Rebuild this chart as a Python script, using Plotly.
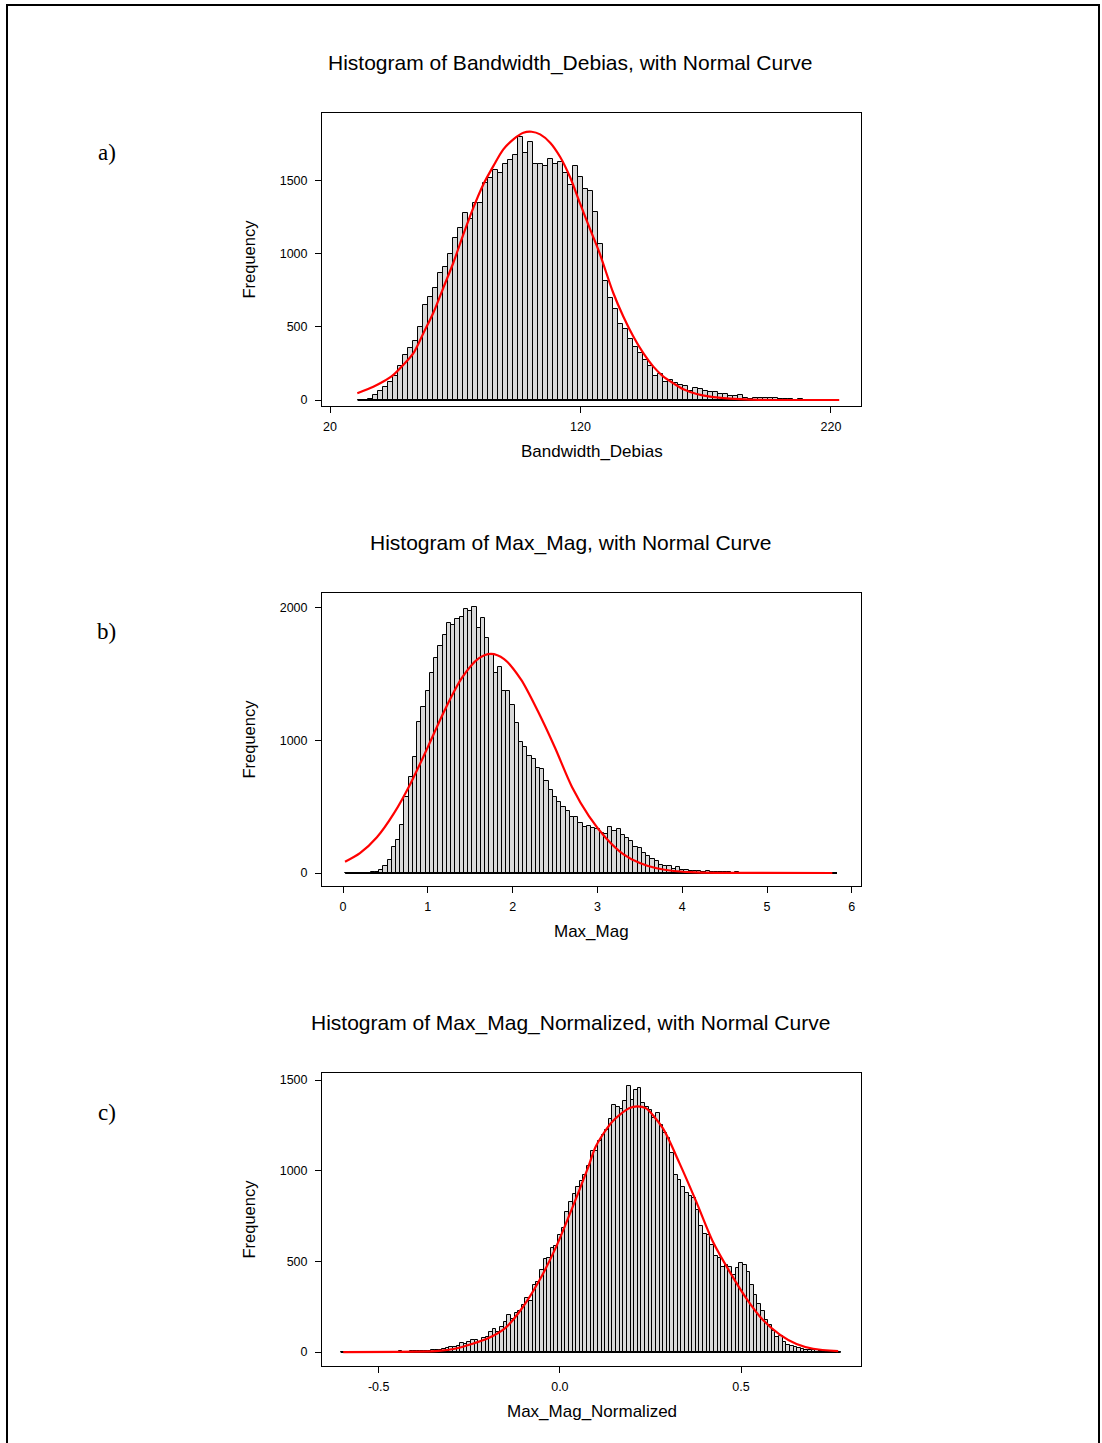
import numpy as np
import plotly.graph_objects as go

W, H = 1102, 1443

# ---------------- data ----------------
# Panel a: Bandwidth_Debias, bin width 2, first bin midpoint 32
a_title = "Histogram of Bandwidth_Debias, with Normal Curve"
a_xlabel = "Bandwidth_Debias"
a_bin_start = 32
a_bin_width = 2
a_counts = [0, 0, 5, 32, 64, 91, 121, 167, 233, 306,
            356, 402, 502, 651, 701, 765, 868, 906, 1000, 1105,
            1178, 1278, 1237, 1345, 1345, 1484, 1514, 1571, 1552, 1610,
            1639, 1676, 1799, 1689, 1765, 1610, 1610, 1598, 1646, 1614,
            1625, 1552, 1466, 1596, 1527, 1443, 1425, 1288, 1068, 813,
            696, 621, 521, 484, 416, 365, 320, 274, 233, 167,
            178, 123, 135, 114, 103, 98, 64, 82, 73, 64,
            57, 57, 39, 39, 27, 27, 34, 11, 5, 14,
            14, 14, 14, 14, 5, 5, 5, 0, 7, 0,
            0, 0, 0, 0, 0, 0]
a_curve_x = [30.9, 37.3, 41.3, 45.3, 49.3, 53.3, 57.3, 61.2, 65.2, 69.2, 73.2, 77.2,
             81.2, 85.2, 89.2, 93.2, 97.2, 100.5, 103.9, 107.9, 111.9, 115.9, 119.9,
             123.9, 127.6, 133.1, 137.1, 141.1, 145.1, 149.1, 153.1, 157.1, 161.1,
             166.4, 171.7, 179.7, 187.7, 200, 223.3]
a_curve_y = [46, 91, 126, 171, 240, 320, 457, 594, 765, 936, 1130, 1313,
             1473, 1598, 1712, 1781, 1826, 1833, 1815, 1758, 1660, 1520, 1340,
             1164, 1005, 731, 571, 434, 320, 228, 160, 114, 73,
             41, 23, 9, 2, 0, 0]
a_xticks = [20, 120, 220]
a_xticktext = ["20", "120", "220"]
a_yticks = [0, 500, 1000, 1500]
a_yticktext = ["0", "500", "1000", "1500"]

# Panel b: Max_Mag, bin width 0.05, first bin midpoint 0.05
b_title = "Histogram of Max_Mag, with Normal Curve"
b_xlabel = "Max_Mag"
b_bin_start = 0.05
b_bin_width = 0.05
b_counts = [0, 0, 0, 0, 0, 0,
            5, 10, 25, 50, 96, 200, 247, 362, 570, 724,
            876, 1138, 1254, 1375, 1506, 1619, 1714, 1795, 1888, 1870,
            1916, 1929, 1996, 1976, 2006, 1851, 1926, 1770, 1649, 1513,
            1556, 1375, 1375, 1267, 1132, 991, 949, 881, 860, 790,
            785, 697, 629, 571, 538, 495, 470, 420, 425, 378,
            345, 355, 340, 332, 300, 296, 345, 315, 330, 290,
            262, 238, 200, 188, 150, 130, 105, 88, 63, 52,
            50, 32, 42, 25, 20, 18, 15, 14, 10, 15,
            10, 8, 8, 8, 5,
            3, 4, 2, 3, 3, 2, 0, 3, 2, 2, 0, 2, 2, 3, 0, 2, 2, 0, 2, 2, 2, 0, 2, 2, 3]
b_curve_x = [0.024, 0.2, 0.4, 0.6, 0.8, 1.0, 1.2, 1.4, 1.6, 1.745, 1.9, 2.1, 2.3,
             2.5, 2.7, 2.9, 3.1, 3.3, 3.5, 3.7, 3.9, 4.1, 4.4, 5.77]
b_curve_y = [85, 150, 270, 450, 680, 950, 1230, 1470, 1619, 1653, 1614, 1459, 1218,
             945, 650, 430, 265, 145, 75, 36, 15, 6, 1, 0]
b_xticks = [0, 1, 2, 3, 4, 5, 6]
b_xticktext = ["0", "1", "2", "3", "4", "5", "6"]
b_yticks = [0, 1000, 2000]
b_yticktext = ["0", "1000", "2000"]

# Panel c: Max_Mag_Normalized, bin width 0.01, first bin midpoint -0.60
c_title = "Histogram of Max_Mag_Normalized, with Normal Curve"
c_xlabel = "Max_Mag_Normalized"
c_bin_start = -0.60
c_bin_width = 0.01
c_counts = [0, 0, 0, 0, 0, 0, 0, 0,
            2, 0, 3, 2, 3, 3, 2, 3, 4, 3, 3, 4, 5, 5, 6, 7, 7, 9, 10, 14, 16, 20, 26, 28,
            35, 50, 46, 58, 64, 68, 55, 80, 84, 112,
            125, 108, 138, 165, 205, 180, 218, 225, 262, 300,
            280, 370, 388, 455, 515, 520, 575, 585, 645, 685,
            775, 830, 870, 910, 945, 975, 1024, 1110, 1107, 1162,
            1198, 1226, 1285, 1364, 1351, 1340, 1382, 1465, 1391, 1447,
            1456, 1373, 1349, 1336, 1290, 1318, 1254, 1208, 1180, 1097,
            978, 950, 913, 877, 858, 849, 785, 693, 651, 647,
            592, 528, 518, 467, 478, 467, 426, 463, 491, 482,
            441, 371, 316, 265, 224, 175, 151, 114, 83, 86,
            53, 40, 31, 26, 22, 17, 13, 11, 11, 9,
            7, 7, 6, 4, 4, 3]
c_curve_x = [-0.598, -0.4, -0.335, -0.29, -0.243, -0.197, -0.151, -0.104, -0.058,
             -0.012, 0.034, 0.079, 0.099, 0.145, 0.191, 0.214, 0.237, 0.284, 0.33,
             0.376, 0.422, 0.468, 0.514, 0.56, 0.607, 0.653, 0.699, 0.768]
c_curve_y = [0, 2, 6, 18, 44, 77, 132, 243, 390,
             573, 794, 1024, 1134, 1272, 1345, 1355, 1345, 1235, 1042,
             831, 610, 445, 298, 178, 96, 44, 18, 5]
c_xticks = [-0.5, 0.0, 0.5]
c_xticktext = ["-0.5", "0.0", "0.5"]
c_yticks = [0, 500, 1000, 1500]
c_yticktext = ["0", "500", "1000", "1500"]

panel_letters = ["a)", "b)", "c)"]

# ---------------- layout geometry (pixels) ----------------
frame_left, frame_right = 322, 861
frames_top = [113, 593, 1073]
frame_h = 293
x_ranges = [[16.8, 232.0], [-0.2476, 6.108], [-0.6565, 0.831]]
y_ranges = [[-41, 1961], [-98, 2113], [-77, 1539]]


def px_x(p):
    return p / W


def px_y(p):
    return 1 - p / H


panels = [
    (a_title, a_xlabel, a_bin_start, a_bin_width, a_counts, a_curve_x, a_curve_y,
     a_xticks, a_xticktext, a_yticks, a_yticktext),
    (b_title, b_xlabel, b_bin_start, b_bin_width, b_counts, b_curve_x, b_curve_y,
     b_xticks, b_xticktext, b_yticks, b_yticktext),
    (c_title, c_xlabel, c_bin_start, c_bin_width, c_counts, c_curve_x, c_curve_y,
     c_xticks, c_xticktext, c_yticks, c_yticktext),
]

fig = go.Figure()
annotations = []
SANS = "Liberation Sans, Arial, sans-serif"
SERIF = "Liberation Serif, Times New Roman, serif"

for i, (title, xlabel, b0, bw, counts, cx, cy, xt, xtt, yt, ytt) in enumerate(panels):
    n = i + 1
    xa = "x" if n == 1 else f"x{n}"
    ya = "y" if n == 1 else f"y{n}"
    mids = b0 + bw * np.arange(len(counts))
    fig.add_trace(go.Bar(
        x=mids, y=counts, width=bw, xaxis=xa, yaxis=ya,
        marker=dict(color="#d9d9d9", line=dict(color="black", width=1)),
        showlegend=False, hoverinfo="x+y"))
    edges = [mids[0] - bw / 2, mids[-1] + bw / 2]
    fig.add_trace(go.Scatter(
        x=edges, y=[0, 0], mode="lines", xaxis=xa, yaxis=ya,
        line=dict(color="black", width=1.8), showlegend=False, hoverinfo="skip"))
    fig.add_trace(go.Scatter(
        x=cx, y=cy, mode="lines", xaxis=xa, yaxis=ya,
        line=dict(color="#ff0000", width=2.2, shape="spline", smoothing=0.8),
        showlegend=False))

    top = frames_top[i]
    bottom = top + frame_h
    axis_common = dict(showline=True, mirror=True, linecolor="black", linewidth=1,
                       ticks="outside", ticklen=6, tickwidth=1, tickcolor="black",
                       showgrid=False, zeroline=False,
                       tickfont=dict(family=SANS, size=12.5, color="black"))
    fig.update_layout(**{
        ("xaxis" if n == 1 else f"xaxis{n}"): dict(
            domain=[px_x(frame_left), px_x(frame_right)], anchor=ya,
            range=x_ranges[i], tickmode="array", tickvals=xt, ticktext=xtt,
            ticklabelstandoff=3, **axis_common),
        ("yaxis" if n == 1 else f"yaxis{n}"): dict(
            domain=[px_y(bottom), px_y(top)], anchor=xa,
            range=y_ranges[i], tickmode="array", tickvals=yt, ticktext=ytt,
            ticklabelstandoff=5, **axis_common),
    })

    annotations.append(dict(text=title, x=px_x(570), y=px_y(top - 50), xref="paper", yref="paper",
                            showarrow=False, xanchor="center", yanchor="middle",
                            font=dict(family=SANS, size=21, color="black")))
    annotations.append(dict(text=xlabel, x=px_x(591.5), y=px_y(bottom + 45), xref="paper", yref="paper",
                            showarrow=False, xanchor="center", yanchor="middle",
                            font=dict(family=SANS, size=17, color="black")))
    annotations.append(dict(text="Frequency", x=px_x(248), y=px_y(top + frame_h / 2), xref="paper",
                            yref="paper", showarrow=False, xanchor="center", yanchor="middle",
                            textangle=-90, font=dict(family=SANS, size=16.5, color="black")))
    annotations.append(dict(text=panel_letters[i], x=px_x(107), y=px_y(top + 39), xref="paper",
                            yref="paper", showarrow=False, xanchor="center", yanchor="middle",
                            font=dict(family=SERIF, size=23, color="black")))

fig.update_layout(
    width=W, height=H,
    margin=dict(l=0, r=0, t=0, b=0),
    paper_bgcolor="white", plot_bgcolor="white",
    annotations=annotations,
    shapes=[dict(type="rect", xref="paper", yref="paper",
                 x0=px_x(7), x1=px_x(1099), y0=px_y(1460), y1=px_y(5),
                 line=dict(color="black", width=2), fillcolor="rgba(0,0,0,0)")],
    bargap=0,
)

fig.write_html("out.html")
